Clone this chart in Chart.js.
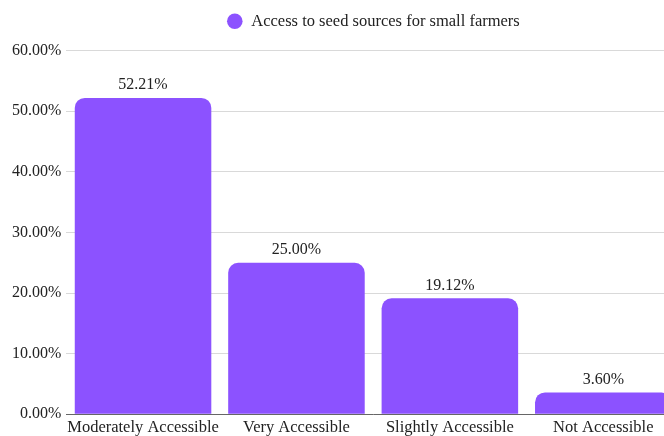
<!DOCTYPE html>
<html>
<head>
<meta charset="utf-8">
<script src="https://cdn.jsdelivr.net/npm/chart.js@4/dist/chart.umd.min.js"></script>
<style>
  html, body { margin: 0; padding: 0; background: #fff; overflow: hidden; }
  #wrap { width: 684px; height: 442px; }
</style>
</head>
<body>
<div id="wrap"><canvas id="seedChart" width="684" height="442"></canvas></div>
<script>
const categories = ['Moderately Accessible', 'Very Accessible', 'Slightly Accessible', 'Not Accessible'];
const shares = [52.21, 25.00, 19.12, 3.60];
const seriesName = 'Access to seed sources for small farmers';
const barColor = '#8c52ff';
const fontFamily = "'Liberation Serif', 'Times New Roman', serif";

Chart.defaults.font.family = fontFamily;
Chart.defaults.font.size = 16;
Chart.defaults.color = '#222';

// writes the percentage above each bar
const valueLabels = {
    id: 'valueLabels',
    afterDatasetsDraw(chart) {
        const ctx = chart.ctx;
        const meta = chart.getDatasetMeta(0);
        ctx.save();
        ctx.font = '16px ' + fontFamily;
        ctx.fillStyle = '#222';
        ctx.textAlign = 'center';
        ctx.textBaseline = 'bottom';
        meta.data.forEach((bar, i) => {
            ctx.fillText(shares[i].toFixed(2) + '%', bar.x, bar.y - 5);
        });
        ctx.restore();
    }
};

new Chart(document.getElementById('seedChart').getContext('2d'), {
    type: 'bar',
    data: {
        labels: categories,
        datasets: [{
            label: seriesName,
            data: shares,
            backgroundColor: barColor,
            borderRadius: 10,
            barPercentage: 0.89,
            categoryPercentage: 1
        }]
    },
    options: {
        responsive: false,
        animation: false,
        layout: { padding: { left: 7, right: 4, top: 0, bottom: 0 } },
        plugins: {
            legend: {
                fullSize: false,
                labels: {
                    usePointStyle: true,
                    pointStyle: 'circle',
                    boxHeight: 11,
                    padding: 13,
                    color: '#222',
                    font: { size: 16.5 }
                }
            },
            // empty spacer between the legend and the plot
            subtitle: {
                display: true,
                text: ' ',
                weight: 500,
                font: { size: 1 },
                padding: { top: 0, bottom: 10 }
            },
            tooltip: { enabled: false }
        },
        scales: {
            x: {
                grid: { display: false, drawTicks: false },
                border: { display: true, color: '#666' },
                ticks: { padding: 4, maxRotation: 0, autoSkip: false, font: { size: 16.5 } }
            },
            y: {
                min: 0,
                max: 60,
                grid: { color: '#d9d9d9', drawTicks: false },
                border: { display: false },
                ticks: {
                    stepSize: 10,
                    padding: 5,
                    callback: v => v.toFixed(2) + '%'
                }
            }
        }
    },
    plugins: [valueLabels]
});
</script>
</body>
</html>
